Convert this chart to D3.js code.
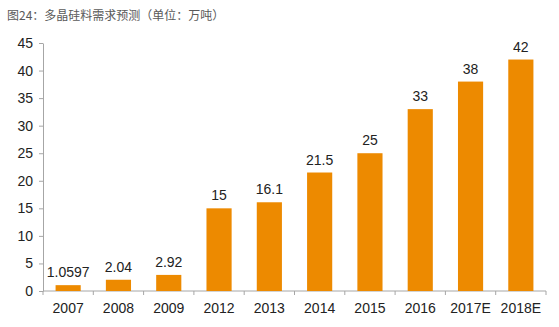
<!DOCTYPE html>
<html>
<head>
<meta charset="utf-8">
<script src="https://cdn.jsdelivr.net/npm/d3@7"></script>
<style>
  html, body { margin: 0; padding: 0; background: #fff; }
  svg { display: block; }
</style>
</head>
<body>
<svg id="chart" width="559" height="327"></svg>
<script>
// Polysilicon demand forecast (10k tonnes)
const years = ["2007", "2008", "2009", "2012", "2013", "2014", "2015", "2016", "2017E", "2018E"];
const demand = [1.0597, 2.04, 2.92, 15, 16.1, 21.5, 25, 33, 38, 42];
const valueLabels = ["1.0597", "2.04", "2.92", "15", "16.1", "21.5", "25", "33", "38", "42"];
const yTicks = [0, 5, 10, 15, 20, 25, 30, 35, 40, 45];
const title = "图24：多晶硅料需求预测（单位：万吨）";

const svg = d3.select("#chart");
const margin = { left: 43, right: 13, top: 43, bottom: 36 };
const W = 559, H = 327;
const font = "'Liberation Sans', Arial, sans-serif";

const x = d3.scaleBand()
  .domain(years)
  .range([margin.left, W - margin.right])
  .paddingInner(0.5)
  .paddingOuter(0.25);

const y = d3.scaleLinear()
  .domain([0, 45])
  .range([H - margin.bottom, margin.top]);

// title
svg.append("text")
  .attr("x", 7)
  .attr("y", 20)
  .attr("font-family", "'Noto Sans CJK SC', sans-serif")
  .attr("font-size", 12)
  .attr("fill", "#595959")
  .text(title);

// y axis
const yAxis = svg.append("g")
  .attr("transform", `translate(${margin.left},0)`)
  .call(d3.axisLeft(y).tickValues(yTicks).tickSize(4).tickPadding(6).tickSizeOuter(0));
yAxis.select(".domain").attr("stroke", "#a6a6a6");
yAxis.selectAll(".tick line").attr("stroke", "#a6a6a6");
yAxis.selectAll(".tick text")
  .attr("font-family", font)
  .attr("font-size", 14)
  .attr("fill", "#222");

// x axis line with separators between categories
const x0 = margin.left, x1 = W - margin.right, yBase = y(0);
svg.append("line")
  .attr("x1", x0).attr("x2", x1)
  .attr("y1", yBase).attr("y2", yBase)
  .attr("stroke", "#a6a6a6");
const step = x.step();
const seps = d3.range(years.length + 1).map(i => x(years[0]) - x.paddingOuter() * step - (step - x.bandwidth()) / 2 + i * step + 0);
svg.selectAll(".sep")
  .data(d3.range(years.length + 1))
  .join("line")
  .attr("class", "sep")
  .attr("x1", i => x0 + i * (x1 - x0) / years.length)
  .attr("x2", i => x0 + i * (x1 - x0) / years.length)
  .attr("y1", yBase).attr("y2", yBase + 4)
  .attr("stroke", "#a6a6a6");

// x labels
svg.selectAll(".xl")
  .data(years)
  .join("text")
  .attr("class", "xl")
  .attr("x", d => x(d) + x.bandwidth() / 2)
  .attr("y", yBase + 22)
  .attr("text-anchor", "middle")
  .attr("font-family", font)
  .attr("font-size", 14)
  .attr("fill", "#222")
  .text(d => d);

// bars
svg.selectAll(".bar")
  .data(demand)
  .join("rect")
  .attr("class", "bar")
  .attr("x", (d, i) => x(years[i]))
  .attr("width", x.bandwidth())
  .attr("y", d => y(d))
  .attr("height", d => yBase - y(d))
  .attr("fill", "#ED8A00");

// value labels
svg.selectAll(".vl")
  .data(demand)
  .join("text")
  .attr("class", "vl")
  .attr("x", (d, i) => x(years[i]) + x.bandwidth() / 2)
  .attr("y", d => y(d) - 8)
  .attr("text-anchor", "middle")
  .attr("font-family", font)
  .attr("font-size", 14)
  .attr("fill", "#222")
  .text((d, i) => valueLabels[i]);
</script>
</body>
</html>
